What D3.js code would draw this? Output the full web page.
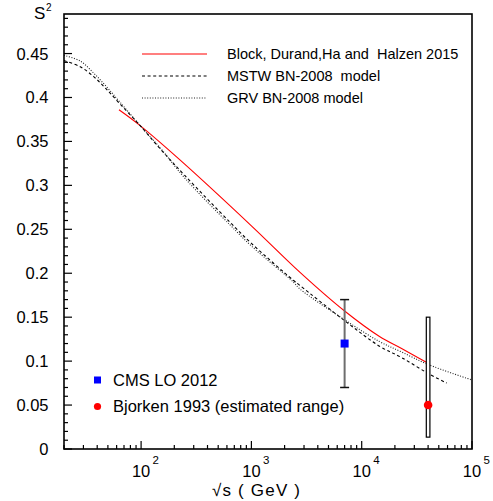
<!DOCTYPE html>
<html>
<head>
<meta charset="utf-8">
<script src="https://cdn.jsdelivr.net/npm/d3@7"></script>
<style>
  body { margin: 0; background: #fff; }
  text { font-family: "Liberation Sans", Arial, sans-serif; fill: #000; white-space: pre; }
</style>
</head>
<body>
<svg id="chart"></svg>
<script>
// Block, Durand, Ha and Halzen 2015
const blockE = [63, 98, 225, 1000, 2760, 7000, 14500, 23000, 40000];
const blockS2 = [0.386, 0.368, 0.329, 0.254, 0.201, 0.157, 0.128, 0.1144, 0.0975];

// MSTW BN-2008 model
const mstwE = [20, 28, 37, 48, 64, 98, 148, 250, 640, 1000, 2400, 2760, 7000, 14500, 23000, 40000, 59000];
const mstwS2 = [0.442, 0.435, 0.424, 0.410, 0.393, 0.368, 0.342, 0.311, 0.258, 0.234, 0.192, 0.186, 0.146, 0.117, 0.104, 0.086, 0.075];

// GRV BN-2008 model
const grvE = [20, 28, 37, 48, 64, 98, 148, 250, 640, 1000, 2400, 2760, 7000, 14500, 23000, 40000, 100000];
const grvS2 = [0.448, 0.4415, 0.428, 0.413, 0.395, 0.368, 0.343, 0.308, 0.255, 0.231, 0.190, 0.182, 0.147, 0.1223, 0.1104, 0.0962, 0.0785];

// CMS LO 2012
const cmsE = [7000];
const cmsS2 = [0.12];
const cmsErr = [0.05];

// Bjorken 1993 (estimated range)
const bjE = [40000];
const bjS2 = [0.05];
const bjLow = [0.0135];
const bjHigh = [0.15];

const yTicks = [0, 0.05, 0.1, 0.15, 0.2, 0.25, 0.3, 0.35, 0.4, 0.45];
const xTicks = [100, 1000, 10000, 100000];
const xTickExp = ["2", "3", "4", "5"];

const legendCurves = ["Block, Durand,Ha and  Halzen 2015", "MSTW BN-2008  model", "GRV BN-2008 model"];
const legendPoints = ["CMS LO 2012", "Bjorken 1993 (estimated range)"];

const width = 493, height = 501;
const margin = ({ top: 14, right: 21, bottom: 52, left: 64 });

const svg = d3.select("#chart")
  .attr("width", width)
  .attr("height", height);

const x = d3.scaleLog()
  .domain([20, 100000])
  .range([margin.left, width - margin.right]);

const y = d3.scaleLinear()
  .domain([0, 0.495])
  .range([height - margin.bottom, margin.top]);

const x0 = x.range()[0], x1 = x.range()[1];
const y0 = y.range()[0], y1 = y.range()[1];

svg.append("clipPath").attr("id", "clip")
  .append("rect")
  .attr("x", x0).attr("y", y1)
  .attr("width", x1 - x0).attr("height", y0 - y1);

// curves
const line = d3.line()
  .x(d => x(d[0]))
  .y(d => y(d[1]))
  .curve(d3.curveCatmullRom.alpha(0.5));

const curves = [
  { e: blockE, s: blockS2, color: "#ff0000", dash: null, w: 1.1 },
  { e: mstwE, s: mstwS2, color: "#000", dash: "3,2.6", w: 1.1 },
  { e: grvE, s: grvS2, color: "#222", dash: "1,1.6", w: 1.1 }
];

const gCurves = svg.append("g").attr("clip-path", "url(#clip)");
curves.forEach(c => {
  gCurves.append("path")
    .datum(d3.zip(c.e, c.s))
    .attr("d", line)
    .attr("fill", "none")
    .attr("stroke", c.color)
    .attr("stroke-width", c.w)
    .attr("stroke-dasharray", c.dash);
});

// CMS error bar
cmsE.forEach((e, i) => {
  svg.append("line")
    .attr("x1", x(e)).attr("x2", x(e))
    .attr("y1", y(cmsS2[i] - cmsErr[i])).attr("y2", y(cmsS2[i] + cmsErr[i]))
    .attr("stroke", "#6e6e6e").attr("stroke-width", 2);
  [cmsS2[i] - cmsErr[i], cmsS2[i] + cmsErr[i]].forEach(v => {
    svg.append("line")
      .attr("x1", x(e) - 4.5).attr("x2", x(e) + 4.5)
      .attr("y1", y(v)).attr("y2", y(v))
      .attr("stroke", "#111").attr("stroke-width", 1.5);
  });
});

// Bjorken range box
bjE.forEach((e, i) => {
  svg.append("rect")
    .attr("x", x(e) - 1.8).attr("width", 3.6)
    .attr("y", y(bjHigh[i])).attr("height", y(bjLow[i]) - y(bjHigh[i]))
    .attr("fill", "#fff").attr("stroke", "#000").attr("stroke-width", 1.2);
});

// markers
svg.selectAll(".cms").data(d3.zip(cmsE, cmsS2)).join("rect")
  .attr("x", d => x(d[0]) - 4).attr("y", d => y(d[1]) - 4)
  .attr("width", 8).attr("height", 8)
  .attr("fill", "#0000ff");

svg.selectAll(".bj").data(d3.zip(bjE, bjS2)).join("circle")
  .attr("cx", d => x(d[0])).attr("cy", d => y(d[1]))
  .attr("r", 4.3)
  .attr("fill", "#ff0000");

// frame
svg.append("rect")
  .attr("x", x0).attr("y", y1)
  .attr("width", x1 - x0).attr("height", y0 - y1)
  .attr("fill", "none").attr("stroke", "#000").attr("stroke-width", 1.6);

// y ticks (inside)
const yMinor = d3.range(0, 50).map(i => i / 100);
svg.append("g").selectAll("line").data(yMinor).join("line")
  .attr("x1", x0).attr("x2", (d, i) => x0 + (i % 5 === 0 ? 8 : 4))
  .attr("y1", d => y(d)).attr("y2", d => y(d))
  .attr("stroke", "#000").attr("stroke-width", 1.2);

svg.append("g").selectAll("text").data(yTicks).join("text")
  .attr("x", 48.5).attr("y", d => y(d) + 6)
  .attr("text-anchor", "end")
  .attr("font-size", 16.5)
  .text(d => d3.format("")(d));

// x ticks (inside)
const xMinor = [];
[10, 100, 1000, 10000].forEach(dec => {
  for (let k = 2; k <= 9; k++) if (dec * k >= 20) xMinor.push(dec * k);
});
svg.append("g").selectAll("line").data(xMinor).join("line")
  .attr("x1", d => x(d)).attr("x2", d => x(d))
  .attr("y1", y0).attr("y2", y0 - 4)
  .attr("stroke", "#000").attr("stroke-width", 1.2);
svg.append("g").selectAll("line").data(xTicks).join("line")
  .attr("x1", d => x(d)).attr("x2", d => x(d))
  .attr("y1", y0).attr("y2", y0 - 8)
  .attr("stroke", "#000").attr("stroke-width", 1.2);

const xLab = svg.append("g").selectAll("g").data(xTicks).join("g");
xLab.append("text")
  .attr("x", d => x(d)).attr("y", 477)
  .attr("text-anchor", "middle")
  .attr("font-size", 16.5)
  .text("10");
xLab.append("text")
  .attr("x", d => x(d) + 11.5).attr("y", 464)
  .attr("font-size", 11.5)
  .text((d, i) => xTickExp[i]);

// axis titles
svg.append("text")
  .attr("x", 256).attr("y", 496)
  .attr("text-anchor", "middle")
  .attr("font-size", 17)
  .attr("textLength", 88)
  .attr("lengthAdjust", "spacing")
  .text("\u221As ( GeV )");

svg.append("text").attr("x", 34).attr("y", 19).attr("font-size", 17).text("S");
svg.append("text").attr("x", 46).attr("y", 11).attr("font-size", 10).text("2");

// legend for the curves
const legY = [54, 76, 98];
curves.forEach((c, i) => {
  svg.append("line")
    .attr("x1", 142).attr("x2", 207)
    .attr("y1", legY[i]).attr("y2", legY[i])
    .attr("stroke", c.color)
    .attr("stroke-width", c.w)
    .attr("stroke-dasharray", c.dash);
  svg.append("text")
    .attr("x", 227).attr("y", legY[i] + 5)
    .attr("font-size", 14.5)
    .text(legendCurves[i]);
});

// legend for the points
svg.append("rect")
  .attr("x", 94).attr("y", 376.5).attr("width", 7).attr("height", 7)
  .attr("fill", "#0000ff");
svg.append("circle")
  .attr("cx", 97.5).attr("cy", 406.5).attr("r", 3.6)
  .attr("fill", "#ff0000");
svg.append("text").attr("x", 113).attr("y", 386).attr("font-size", 16.5).text(legendPoints[0]);
svg.append("text").attr("x", 113).attr("y", 412).attr("font-size", 16.5).text(legendPoints[1]);
</script>
</body>
</html>
